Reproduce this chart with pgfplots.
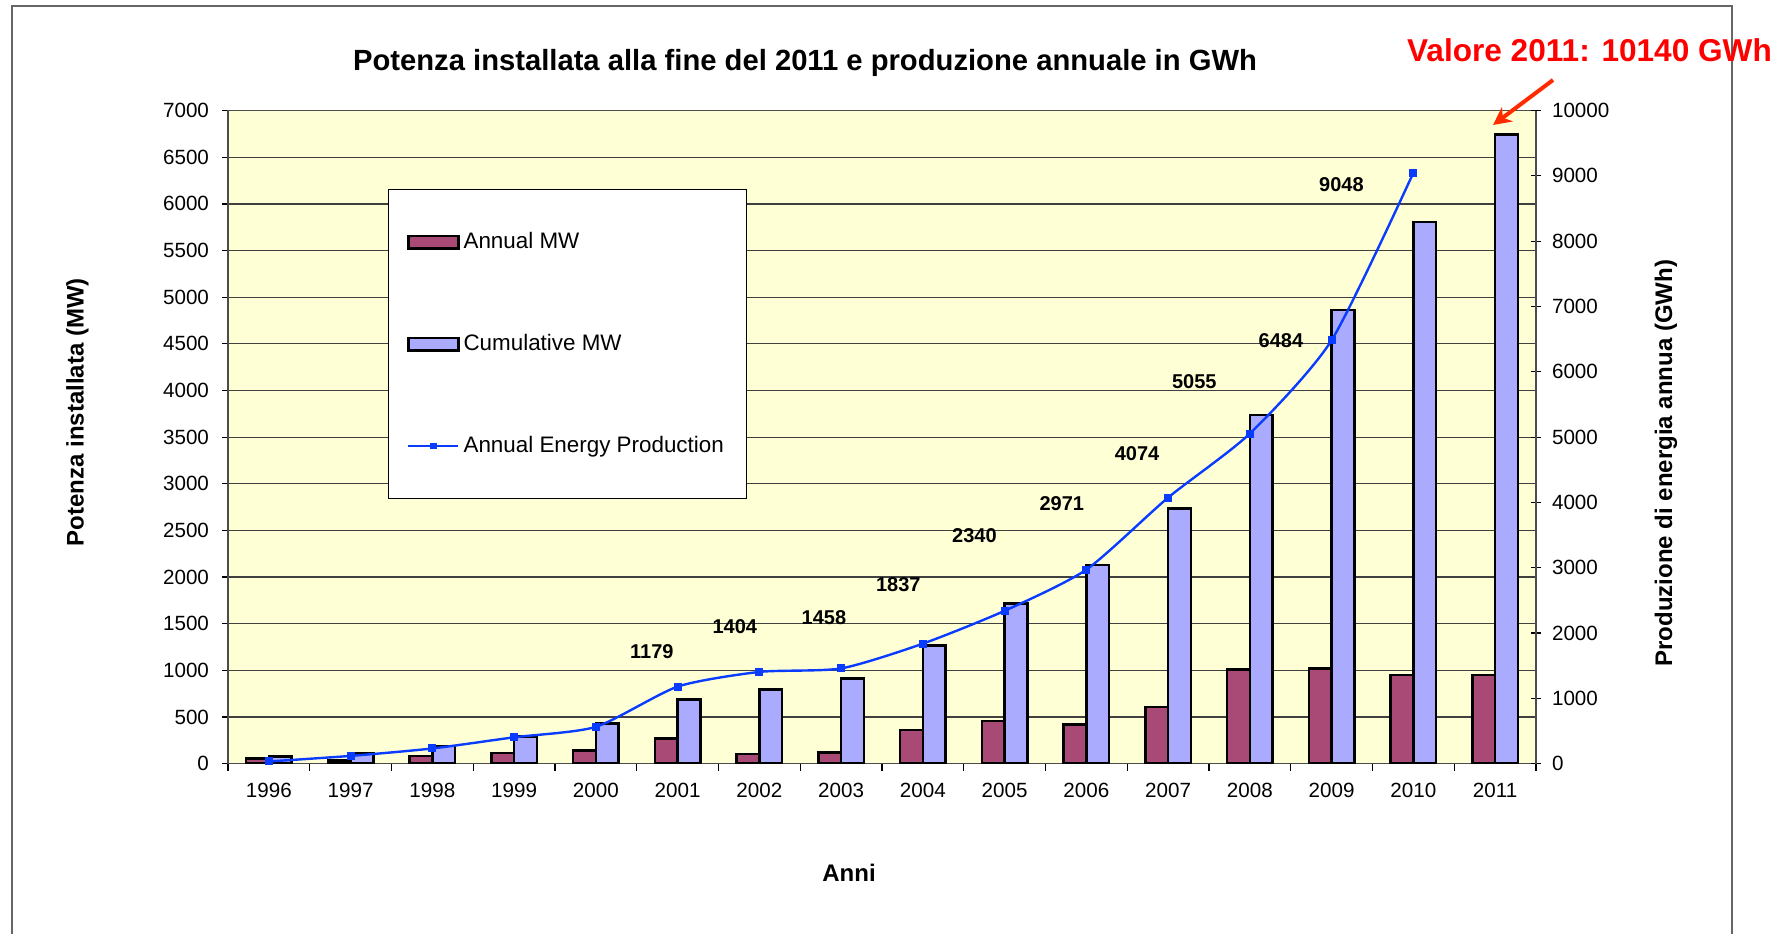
\documentclass[border=0pt]{standalone}
\usepackage{pgfplots}
\pgfplotsset{compat=1.18}
\usepackage{pgfplotstable}
\usepackage{fontspec}
\setmainfont{Liberation Sans}
\usetikzlibrary{arrows.meta}
\definecolor{bgyellow}{HTML}{FFFFD5}
\definecolor{plum}{HTML}{A94A76}
\definecolor{peri}{HTML}{AAAAFF}
\definecolor{lineblue}{HTML}{0A3CFF}
\definecolor{arrowred}{HTML}{FF2A00}

\pgfplotsset{
  barlegend/.style={legend image code/.code={\draw[##1] (0pt,-3.2pt) rectangle (25pt,3.2pt);}},
  linelegend/.style={legend image code/.code={\draw[##1, sharp plot, mark repeat=2, mark phase=2] plot coordinates {(0pt,0pt) (12.5pt,0pt) (25pt,0pt)};}},
}

\pgfplotstableread{
x annual cumul
0 55 75
1 35 110
2 82 186
3 111 289
4 139 429
5 271 689
6 104 793
7 121 911
8 361 1268
9 454 1718
10 418 2132
11 604 2736
12 1007 3738
13 1018 4862
14 950 5803
15 950 6743
}\mwdata

\pgfplotstableread{
x gwh
0 33
1 118
2 232
3 403
4 563
5 1179
6 1404
7 1458
8 1837
9 2340
10 2971
11 4074
12 5055
13 6484
14 9048
}\energydata

\begin{document}
\begin{tikzpicture}[font=\fontsize{10.3}{12}\selectfont]
\path[use as bounding box] (0,0) rectangle (893.5pt,466.5pt);
\draw[black!60, line width=0.6pt] (6pt,-10pt) rectangle (866pt,463.5pt);

\begin{axis}[
  at={(114pt,84.7pt)}, anchor=south west,
  scale only axis, width=654pt, height=326.5pt,
  xmin=-0.5, xmax=15.5, ymin=0, ymax=7000,
  ytick={0,500,...,7000},
  xtick={0,...,15},
  xticklabels={1996,1997,1998,1999,2000,2001,2002,2003,2004,2005,2006,2007,2008,2009,2010,2011},
  minor xtick={-0.5,0.5,...,15.5},
  major x tick style={draw=none},
  xtick pos=left, ytick pos=left,
  tick align=outside,
  major tick length=3pt, minor tick length=3.5pt,
  tick style={black, line width=0.6pt},
  ymajorgrids, grid style={black!75, line width=0.6pt},
  axis background/.style={fill=bgyellow},
  axis line style={black!70, line width=0.8pt},
  /pgf/number format/assume math mode=true,
  /pgf/number format/1000 sep={},
  scaled y ticks=false,
  yticklabel style={xshift=-3pt},
  xticklabel style={yshift=-3pt},
  ybar=0pt, bar width=11.4pt,
  ylabel={Potenza installata (MW)},
  ylabel style={at={(axis description cs:-0.1151,0.538)}, anchor=center, font=\bfseries\fontsize{12}{14}\selectfont},
  xlabel={Anni},
  xlabel style={at={(axis description cs:0.4748,-0.1675)}, anchor=center, font=\bfseries\fontsize{12}{14}\selectfont},
  legend cell align=left,
  legend style={at={(axis description cs:0.122,0.880)}, anchor=north west,
    draw=black, line width=0.6pt, fill=white,
    font=\fontsize{11.2}{13}\selectfont,
    row sep=37.4pt, inner xsep=9.5pt, inner ysep=19.5pt},
]
\addplot[fill=plum, draw=black, line width=1.2pt, barlegend]
  table[x=x, y=annual] {\mwdata};
\addlegendentry{Annual MW}
\addplot[fill=peri, draw=black, line width=1.2pt, barlegend]
  table[x=x, y=cumul] {\mwdata};
\addlegendentry{Cumulative MW}
\addlegendimage{lineblue, line width=1.2pt, mark=square*, mark size=1.0pt, linelegend}
\addlegendentry{Annual Energy Production}
\end{axis}

\begin{axis}[
  at={(114pt,84.7pt)}, anchor=south west,
  scale only axis, width=654pt, height=326.5pt,
  xmin=-0.5, xmax=15.5, ymin=0, ymax=10000,
  axis y line*=right, axis x line=none,
  ytick={0,1000,...,10000},
  scaled y ticks=false,
  tick align=center, major tick length=5pt,
  tick style={black, line width=0.6pt},
  axis line style={black!70, line width=0.8pt},
  /pgf/number format/assume math mode=true,
  /pgf/number format/1000 sep={},
  yticklabel style={xshift=2pt},
  ylabel={Produzione di energia annua (GWh)},
  ylabel style={at={(axis description cs:1.0994,0.46)}, anchor=center, font=\bfseries\fontsize{12}{14}\selectfont},
]
\addplot[lineblue, line width=1.2pt, smooth, tension=0.4, mark=square*, mark size=1.4pt]
  table[x=x, y=gwh] {\energydata};
\begin{scope}[font=\bfseries\fontsize{10}{12}\selectfont]
\node at (axis cs:4.685,1710) {1179};
\node at (axis cs:5.70,2094) {1404};
\node at (axis cs:6.79,2234) {1458};
\node at (axis cs:7.70,2740) {1837};
\node at (axis cs:8.63,3490) {2340};
\node at (axis cs:9.70,3979) {2971};
\node at (axis cs:10.62,4747) {4074};
\node at (axis cs:11.32,5846) {5055};
\node at (axis cs:12.38,6475) {6484};
\node at (axis cs:13.12,8866) {9048};
\end{scope}
\end{axis}

\node[font=\bfseries\fontsize{14.6}{17}\selectfont] at (402.5pt,435.2pt) {Potenza installata alla fine del 2011 e produzione annuale in GWh};
\node[red, font=\bfseries\fontsize{15.8}{18}\selectfont] at (794.75pt,441.5pt) {Valore 2011: 10140 GWh};
\draw[arrowred, line width=2pt, -{Stealth[length=9pt,width=9pt]}] (776.5pt,426.5pt) -- (746.5pt,404pt);
\end{tikzpicture}
\end{document}
